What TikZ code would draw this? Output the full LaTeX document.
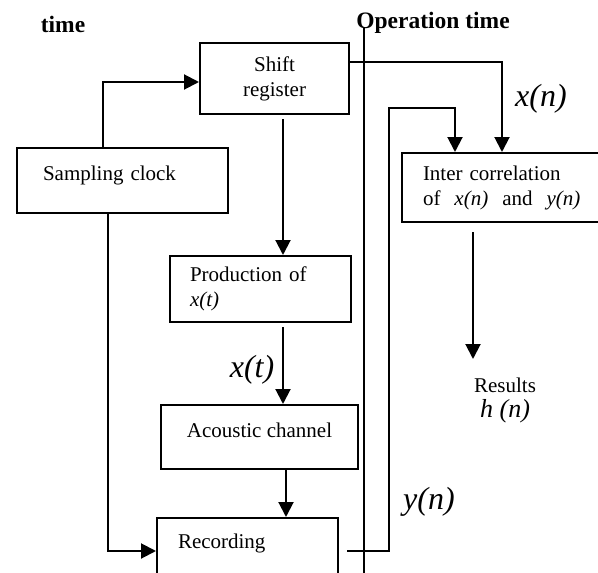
\documentclass[tikz,border=0pt]{standalone}
\usepackage{fontspec}
\setmainfont{Liberation Serif}
\usepackage{tikz}
\usetikzlibrary{positioning,arrows.meta,calc}
\tikzset{
  blk/.style={draw, line width=2pt, inner xsep=0pt, inner ysep=0pt, anchor=north west,
              font=\fontsize{21}{25}\selectfont},
  txt/.style={inner sep=0pt, font=\fontsize{21}{25}\selectfont},
  hdr/.style={inner sep=0pt, font=\fontsize{23.5}{27}\selectfont\bfseries},
  sig/.style={inner sep=0pt, font=\fontsize{32}{36}\selectfont\itshape},
  res/.style={inner sep=0pt, font=\fontsize{26}{30}\selectfont\itshape},
  ln/.style={line width=2pt},
  arr/.style={ln, -{Triangle[length=15pt,width=15pt]}}
}

\begin{document}
\begin{tikzpicture}[x=1pt, y=-1pt]
\clip (0,0) rectangle (598,573);
% headings and time split
\node[hdr] (lefttime) at (63,24) {time};
\node[hdr] (optime) at (433,23) {Operation time};
\coordinate (optop) at (364,28);
\coordinate (opbot) at (364,590);
\draw[ln] (optop) -- (opbot);
% blocks
\node[blk, minimum width=149pt, minimum height=71pt, align=center] (shift) at (199,42) {Shift\\register};
\node[blk, inner xsep=26pt, text width=159pt, align=left, minimum height=65pt,
      text height=8pt, text depth=8pt] (clock) at (16,147) {Sampling clock};
\node[blk, inner xsep=20pt, text width=141pt, align=left, minimum height=66pt] (prod) at (169,255)
  {Production of\\\textit{x(t)}};
\node[blk, minimum width=197pt, minimum height=64pt, text height=8pt, text depth=8pt] (acou) at (160,404)
  {Acoustic channel};
\node[blk, inner xsep=21pt, text width=139pt, align=left, text height=30pt, text depth=60pt] (rec) at (156,517)
  {Recording};
\node[blk, inner xsep=21pt, text width=167pt, align=left, minimum height=69pt] (corr) at (401,152)
  {Inter correlation\\of\ \ \textit{x(n)}\ \ and\ \ \textit{y(n)}};
% signals
\node[sig] (xn) at (541,99) {x(n)};
\node[sig] (xt) at (252,370) {x(t)};
\node[sig] (yn) at (429,502) {y(n)};
\node[txt] (results) at (505,385) {Results};
\node[res] (hn) at (505,411) {h (n)};
\coordinate (resin) at (473,359);
% connectors
\draw[arr] ($(clock.north west)+(87,0)$) |- ($(shift.west)+(0,3.5)$);
\draw[arr] ($(shift.north east)+(0,20)$) -| ($(corr.north west)+(101,0)$);
\draw[arr] ($(shift.south west)+(84,4)$) -- ($(prod.north west)+(114,0)$);
\draw[arr] ($(prod.south west)+(114,4)$) -- ($(acou.north west)+(123,0)$);
\draw[arr] ($(acou.south west)+(126,0)$) -- ($(rec.north west)+(130,0)$);
\draw[arr] ($(clock.south west)+(92,0)$) |- ($(rec.north west)+(0,34)$);
\draw[arr] ($(rec.north east)+(8,34)$) -| ($(corr.north west)+(-12,-44)$) -| ($(corr.north west)+(54,0)$);
\draw[arr] ($(corr.south west)+(72,9)$) -- (resin);
\end{tikzpicture}
\end{document}
